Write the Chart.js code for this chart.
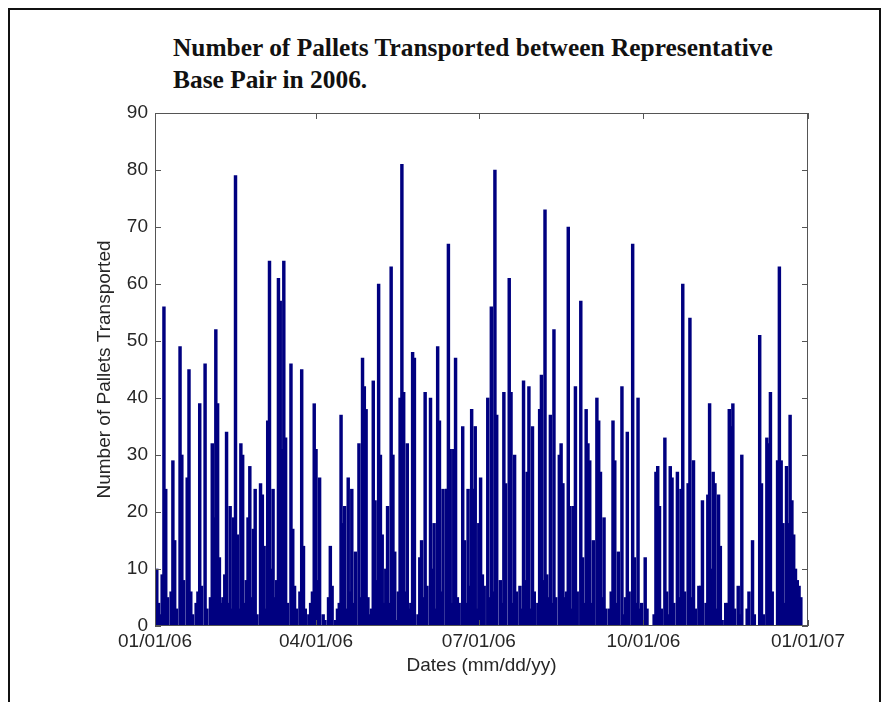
<!DOCTYPE html>
<html>
<head>
<meta charset="utf-8">
<title>Pallets transported 2006</title>
<script src="https://cdn.jsdelivr.net/npm/chart.js@4.4.0/dist/chart.umd.min.js"></script>
<style>
  html, body { margin:0; padding:0; background:#fff; }
  #wrap { position:relative; width:886px; height:702px; overflow:hidden; }
  #frame { position:absolute; left:8px; top:8px; width:873px; height:720px; border:2px solid #111; box-sizing:border-box; }
  #title { position:absolute; left:173px; top:31px; font:bold 25.4px/32px "Liberation Serif", "Times New Roman", serif; color:#111; white-space:nowrap; }
  #chart { position:absolute; left:0; top:0; }
</style>
</head>
<body>
<div id="wrap">
  <div id="frame"></div>
  <div id="title">Number of Pallets Transported between Representative<br>Base Pair in 2006.</div>
  <canvas id="chart" width="886" height="702"></canvas>
</div>
<script>
// pallets per day, index 0 = 01/01/06
const VALUES = [
  0,10,4,2,9,56,24,5,0,6,
  29,15,3,0,49,30,8,0,26,45,
  6,2,0,4,6,39,7,0,46,3,
  0,5,32,19,52,39,12,4,5,9,
  34,4,21,3,19,79,16,3,32,30,
  4,8,19,28,5,17,24,2,0,25,
  23,14,3,36,64,10,24,5,8,61,
  57,31,64,33,4,0,46,17,7,3,
  0,6,45,14,3,0,2,4,6,39,
  31,8,26,0,2,1,0,5,14,7,
  0,1,3,4,37,18,21,3,26,6,
  24,4,13,0,32,5,47,42,38,5,
  2,3,43,22,8,60,30,16,4,10,
  21,4,63,30,13,1,6,40,81,41,
  6,32,3,4,48,47,0,2,12,15,
  5,41,7,0,40,10,18,3,49,36,
  6,24,0,24,67,31,4,31,47,5,
  4,0,35,15,4,24,7,38,24,35,
  3,18,26,9,7,0,40,5,56,6,
  80,37,0,8,4,41,25,0,61,41,
  4,30,6,0,7,3,43,8,27,42,
  3,35,6,0,4,38,44,8,73,9,
  5,37,4,52,5,0,30,32,25,5,
  6,70,21,3,21,42,6,0,57,12,
  4,38,32,29,4,15,0,40,36,27,
  5,19,3,0,3,6,36,29,4,13,
  0,42,2,5,34,6,0,67,12,4,
  40,3,4,0,12,3,0,0,0,2,
  27,28,21,3,0,33,6,2,28,26,
  4,0,27,5,24,60,6,0,25,54,
  5,29,3,0,7,7,22,0,4,23,
  39,10,27,25,3,23,14,1,0,4,
  4,38,35,39,3,0,7,2,30,0,
  0,3,6,0,15,2,0,0,51,25,
  2,0,33,32,41,6,0,0,29,63,
  29,18,4,28,18,37,22,16,10,8,
  7,5,0,0,0
];
const TICK_DAYS = [0, 90, 181, 273, 365];
const TICK_LABELS = ['01/01/06', '04/01/06', '07/01/06', '10/01/06', '01/01/07'];
const Y_MAX = 90;
const Y_STEP = 10;

const AXIS_FONT = { family: '"Liberation Sans", Arial, sans-serif', size: 19 };
const TEXT_COL = '#262626';

// matlab style box with inward ticks on all four sides
const axisBox = {
  id: 'axisBox',
  afterDatasetsDraw(chart) {
    const { ctx, chartArea: a, scales: { x, y } } = chart;
    ctx.save();
    ctx.strokeStyle = '#555';
    ctx.lineWidth = 1;
    ctx.strokeRect(a.left + 0.5, a.top + 0.5, a.right - a.left - 1, a.bottom - a.top - 1);
    ctx.beginPath();
    for (const t of y.ticks) {
      const py = Math.round(y.getPixelForValue(t.value)) + 0.5;
      ctx.moveTo(a.left, py); ctx.lineTo(a.left + 6, py);
      ctx.moveTo(a.right, py); ctx.lineTo(a.right - 6, py);
    }
    for (const t of x.ticks) {
      const px = Math.round(x.getPixelForValue(t.value)) + 0.5;
      ctx.moveTo(px, a.top); ctx.lineTo(px, a.top + 6);
      ctx.moveTo(px, a.bottom); ctx.lineTo(px, a.bottom - 6);
    }
    ctx.stroke();
    ctx.restore();
  }
};

new Chart(document.getElementById('chart'), {
  type: 'bar',
  data: {
    datasets: [{
      data: VALUES.map((v, i) => ({ x: i, y: v })),
      backgroundColor: '#000080',
      borderWidth: 0,
      barThickness: 2.8
    }]
  },
  options: {
    responsive: false,
    animation: false,
    layout: { padding: { top: 113, right: 78, bottom: 0, left: 0 } },
    plugins: { legend: { display: false }, tooltip: { enabled: false } },
    scales: {
      x: {
        type: 'linear', min: 0, max: 365, offset: false,
        grid: { display: false, drawTicks: false, offset: false },
        border: { display: false },
        afterBuildTicks: s => { s.ticks = TICK_DAYS.map(v => ({ value: v })); },
        ticks: { callback: (v, i) => TICK_LABELS[i], font: AXIS_FONT, color: TEXT_COL, padding: 4, maxRotation: 0, autoSkip: false },
        title: { display: true, text: 'Dates (mm/dd/yy)', font: AXIS_FONT, color: TEXT_COL, padding: { top: 0, bottom: 25 } },
        afterFit: s => { s.height = 76; }
      },
      y: {
        min: 0, max: Y_MAX,
        grid: { display: false, drawTicks: false },
        border: { display: false },
        ticks: { stepSize: Y_STEP, font: AXIS_FONT, color: TEXT_COL, padding: 7 },
        title: { display: true, text: 'Number of Pallets Transported', font: AXIS_FONT, color: TEXT_COL, padding: { top: 93, bottom: 0 } },
        afterFit: s => { s.width = 155; }
      }
    }
  },
  plugins: [axisBox]
});
</script>
</body>
</html>
